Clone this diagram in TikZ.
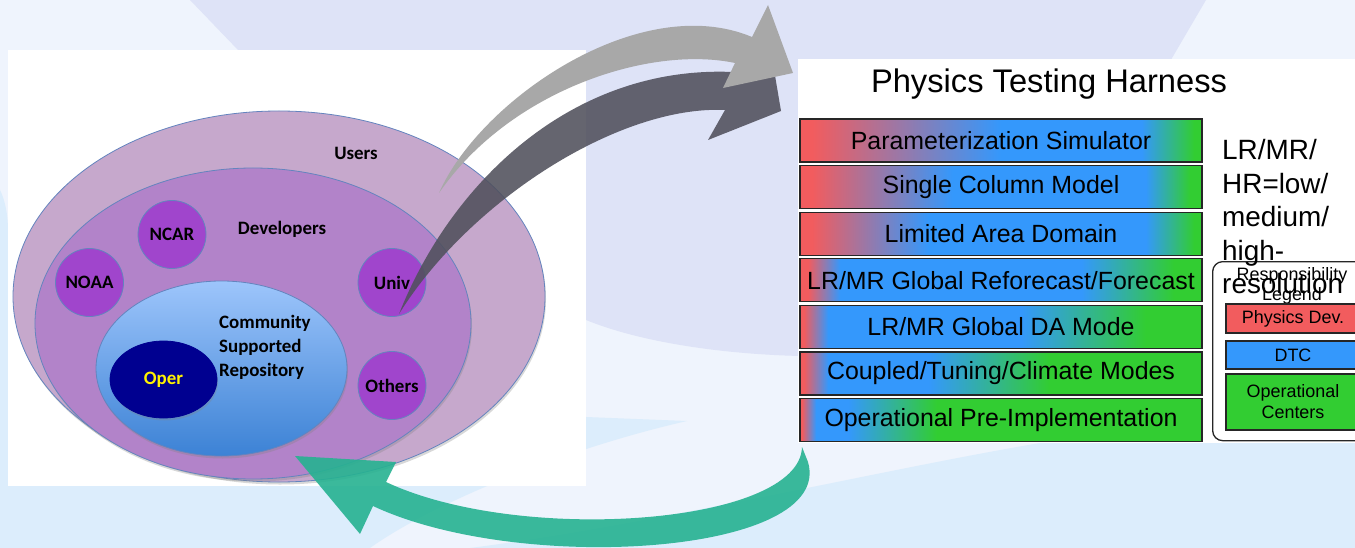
\documentclass[tikz,border=0pt]{standalone}
\usepackage{fontspec}
\setmainfont{Liberation Sans}
\newfontfamily\calibri{Carlito}
\usetikzlibrary{shapes.geometric,shadows}

\definecolor{bgpale}{RGB}{239,244,253}
\definecolor{bglav}{RGB}{222,227,247}
\definecolor{bgblue}{RGB}{220,237,252}
\definecolor{usersfill}{RGB}{198,168,204}
\definecolor{devfill}{RGB}{178,131,201}
\definecolor{orgfill}{RGB}{160,69,204}
\definecolor{ringline}{RGB}{100,132,190}
\definecolor{repotop}{RGB}{157,197,251}
\definecolor{repobot}{RGB}{60,130,213}
\definecolor{opernavy}{RGB}{0,0,144}
\definecolor{physred}{RGB}{242,92,94}
\definecolor{dtcblue}{RGB}{52,152,252}
\definecolor{opgreen}{RGB}{50,205,50}
\definecolor{arrowlight}{RGB}{168,168,168}
\definecolor{arrowdark}{RGB}{80,80,92}
\definecolor{arrowteal}{RGB}{38,178,145}

% red -> blue -> green fill of one harness row (25bp..75bp is the row)
\newcommand{\barshading}[5]{%
  \pgfdeclarehorizontalshading{#1}{100bp}{color(0bp)=(physred); color(#2bp)=(physred);
    color(#3bp)=(dtcblue); color(#4bp)=(dtcblue); color(#5bp)=(opgreen); color(100bp)=(opgreen)}}
\barshading{bar1}{26.5}{50}{67.5}{74}
\barshading{bar2}{26.5}{44}{68}{73.5}
\barshading{bar3}{26.5}{41}{68}{74}
\barshading{bar4}{26}{30}{60}{71.5}
\barshading{bar5}{25.5}{28.5}{52.5}{68}
\barshading{bar6}{25.5}{28.5}{41}{56}
\barshading{bar7}{25.25}{27}{31}{42}

\begin{document}
\begin{tikzpicture}[x=1bp,y=-1bp,
  ring/.style={ellipse, draw=ringline, line width=0.8bp, inner sep=0pt,
    drop shadow={shadow xshift=1bp, shadow yshift=-2.5bp, opacity=0.3}},
  ringtext/.style={font=\calibri\bfseries\fontsize{19}{24}\selectfont},
  org/.style={circle, fill=orgfill, draw=ringline, line width=0.8bp, minimum size=68bp,
    inner sep=0pt, ringtext},
  phtbar/.style={draw=black!85, line width=1.3bp, minimum width=402bp, minimum height=43bp,
    inner sep=0pt, font=\fontsize{25}{30}\selectfont},
  legbox/.style={draw=black!85, line width=1.3bp, minimum width=134bp, inner sep=0pt,
    align=center, font=\fontsize{18}{21}\selectfont},
]
\useasboundingbox (0,0) rectangle (1355,548);
\clip (0,0) rectangle (1355,548);
%
\fill[bgpale] (0,0) rectangle (1355,548);
\fill[bglav] (190,0) -- (1206,0) -- (1165,70) -- (800,356)
  .. controls (720,354) and (640,342) .. (586,320) -- (238,50) -- cycle;
\fill[bgblue] (0,190) .. controls (5,200) and (8,215) .. (8,230) -- (586,417) -- (687,421)
  .. controls (560,450) and (430,505) .. (370,548) -- (0,548) -- cycle;
\fill[bgblue] (470,548) .. controls (650,525) and (880,470) .. (1040,443)
  -- (1355,443) -- (1355,548) -- cycle;
\fill[white] (8,50) rectangle (586,486);
\fill[white] (798,59) rectangle (1355,443);
%
\node[ring, fill=usersfill, minimum width=532bp, minimum height=371bp] (users) at (279,296.5) {};
\node[ring, fill=devfill, minimum width=436bp, minimum height=311bp] (devs) at (253,323.5) {};
\node[ring, top color=repotop, bottom color=repobot, minimum width=251bp, minimum height=175bp] (repo) at (221.5,368.5) {};
\node[ring, fill=opernavy, draw=opernavy, minimum width=107bp, minimum height=77bp,
  ringtext, text=yellow] (oper) at (163.5,379.5) {Oper};
\node[org] (ncar) at (172,234.5) {NCAR};
\node[org] (noaa) at (89.5,282.5) {NOAA};
\node[org] (univ) at (392,282.5) {Univ};
\node[org] (others) at (392,385.5) {Others};
\node[ringtext] (userslbl) at (356,153) {Users};
\node[ringtext] (devslbl) at (282,229) {Developers};
\node[ringtext, align=left, anchor=north west, inner sep=0pt] (repolbl) at (219,315)
  {Community\\Supported\\Repository};
%
\node[font=\fontsize{32.8}{38}\selectfont, anchor=base] (title) at (1049,93) {Physics Testing Harness};
\foreach \txt [count=\i] in {Parameterization Simulator, Single Column Model, Limited Area Domain,
  LR/MR Global Reforecast/Forecast, LR/MR Global DA Mode, Coupled/Tuning/Climate Modes,
  Operational Pre-Implementation}
  \node[phtbar, shading=bar\i] (bar\i) at (1001,{140.5+46.6*(\i-1)}) {\txt};
%
\node[draw=black!85, line width=1.3bp, fill=white, rounded corners=10bp, anchor=north west,
  minimum width=170bp, minimum height=179bp] (legend) at (1212,261) {};
\node[align=center, font=\fontsize{18}{20}\selectfont, anchor=north, inner sep=0pt] (legtitle)
  at (1292,267.5) {Responsibility\\Legend};
\node[legbox, fill=physred, minimum height=29bp] (legphys) at (1293,318.5) {Physics Dev.};
\node[legbox, fill=dtcblue, minimum height=28bp] (legdtc) at (1293,355) {DTC};
\node[legbox, fill=opgreen, minimum height=56bp] (legops) at (1293,402) {Operational\\Centers};
\node[align=left, anchor=north west, inner sep=0pt, font=\fontsize{28}{33.5}\selectfont]
  (resnote) at (1222,139.5) {LR/MR/\\HR=low/\\medium/\\high-\\resolution};
%
\fill[arrowdark, opacity=0.88] (399,314) .. controls (450,185) and (570,65) .. (733,72)
  -- (769,40) -- (781,111) -- (708,140) -- (725,110)
  .. controls (620,105) and (470,200) .. (399,314) -- cycle;
\fill[arrowlight] (439,193) .. controls (480,100) and (640,-10) .. (752,37)
  -- (768,5) -- (793,73) -- (723,88) -- (735,63)
  .. controls (650,45) and (510,90) .. (439,193) -- cycle;
\fill[arrowteal, opacity=0.9] (802,447) .. controls (800,525) and (520,545) .. (386,482)
  -- (396,462) -- (295,456) -- (360,534) -- (373,506)
  .. controls (520,575) and (835,555) .. (808,462) -- cycle;
\end{tikzpicture}
\end{document}
